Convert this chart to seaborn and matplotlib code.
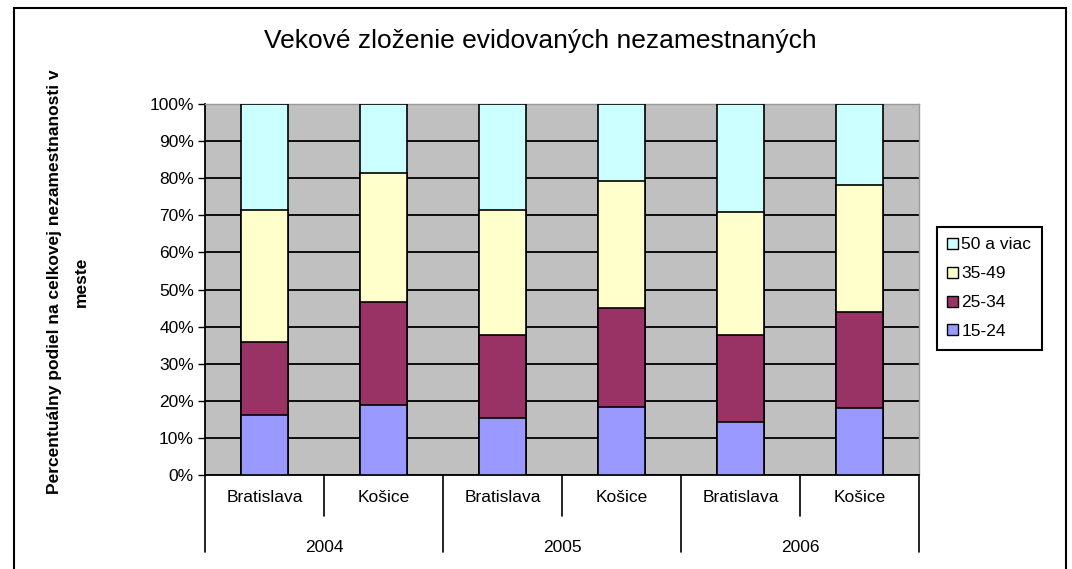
import matplotlib
matplotlib.use("Agg")
import matplotlib.pyplot as plt
from matplotlib.patches import Patch, Rectangle
from matplotlib.lines import Line2D
import seaborn as sns
import numpy as np
import pandas as pd

sns.set_theme(style="white")
plt.rcParams['font.family'] = ['Liberation Sans', 'DejaVu Sans']
plt.rcParams['text.color'] = 'black'
plt.rcParams['ytick.labelcolor'] = 'black'

years = ['2004', '2005', '2006']
cities = ['Bratislava', 'Košice']
groups = ['15-24', '25-34', '35-49', '50 a viac']
colors = ['#9999FF', '#993366', '#FFFFCC', '#CCFFFF']

# percent share per bar (Bratislava/Kosice per year)
age_15_24 = [16.2, 18.9, 15.4, 18.4, 14.4, 18.0]
age_25_34 = [19.7, 27.6, 22.3, 26.5, 23.3, 26.0]
age_35_49 = [35.5, 34.8, 33.7, 34.4, 33.3, 34.2]
age_50 = [28.6, 18.7, 28.6, 20.7, 29.0, 21.8]

labels = [c + ' ' + y for y in years for c in cities]
df = pd.DataFrame({'bar': labels, '15-24': age_15_24, '25-34': age_25_34,
                   '35-49': age_35_49, '50 a viac': age_50})
cum = df[groups].cumsum(axis=1)

fig = plt.figure(figsize=(10.72, 5.69), dpi=100)
ax = fig.add_axes([205/1072, 1-475/569, (919-205)/1072, (475-104)/569])
ax.set_facecolor('#C0C0C0')

# draw tallest cumulative first so lower segments sit on top
for g, col in reversed(list(zip(groups, colors))):
    sns.barplot(x=df['bar'], y=cum[g], color=col, width=0.4, order=labels,
                edgecolor='black', linewidth=1.2, saturation=1, ax=ax, zorder=3)

ax.set_ylim(0, 100)
ax.set_xlim(-0.5, 5.5)
ax.set_yticks(np.arange(0, 101, 10))
ax.set_yticklabels([f'{v}%' for v in range(0, 101, 10)], fontsize=12.5, color='black')
ax.yaxis.grid(True, color='black', linewidth=1.3, zorder=0)
ax.set_axisbelow(True)
ax.tick_params(axis='y', left=True, length=5, width=1, color='black', pad=3)
ax.set_xticks([])
ax.set_xlabel('')
ax.set_ylabel('')
for s in ['top', 'right']:
    ax.spines[s].set_color('#9a9a9a')
    ax.spines[s].set_linewidth(1)
for s in ['left', 'bottom']:
    ax.spines[s].set_color('black')
    ax.spines[s].set_linewidth(1.3)

# two-level category labels
tr = ax.get_xaxis_transform()
for i, lab in enumerate(labels):
    ax.text(i, -0.06, lab.split(' ')[0], transform=tr, ha='center', va='center', fontsize=12.5)
for j, y in enumerate(years):
    ax.text(2*j + 0.5, -0.195, y, transform=tr, ha='center', va='center', fontsize=12.5)
for k in range(7):
    x = k - 0.5
    low = -0.208 if k % 2 == 0 else -0.11
    ax.add_line(Line2D([x, x], [0, low], transform=tr, color='black', linewidth=1.2, clip_on=False))

handles = [Patch(facecolor=c, edgecolor='black', label=g) for g, c in zip(groups, colors)][::-1]
fig.legend(handles=handles, loc='upper left', bbox_to_anchor=(937/1072, 1-227/569),
           frameon=True, fancybox=False, edgecolor='black', framealpha=1, fontsize=12.5,
           handlelength=0.6, handleheight=0.6, handletextpad=0.2, labelspacing=0.8,
           borderpad=0.6, borderaxespad=0)
fig.legends[0].get_frame().set_linewidth(1.5)

fig.suptitle('Vekové zloženie evidovaných nezamestnaných', x=540/1072, y=1-41/569,
             va='center', fontsize=19, color='black')
fig.text(68/1072, 0.505, 'Percentuálny podiel na celkovej nezamestnanosti v\nmeste',
         rotation=90, ha='center', va='center', fontsize=12.5, fontweight='bold',
         multialignment='center', linespacing=2.0, color='black')

fig.add_artist(Rectangle((14/1072, -0.05), (1066-14)/1072, 1.05-8/569, transform=fig.transFigure,
                         fill=False, edgecolor='black', linewidth=1.5))

fig.savefig('out.png', dpi=100, facecolor='white')
